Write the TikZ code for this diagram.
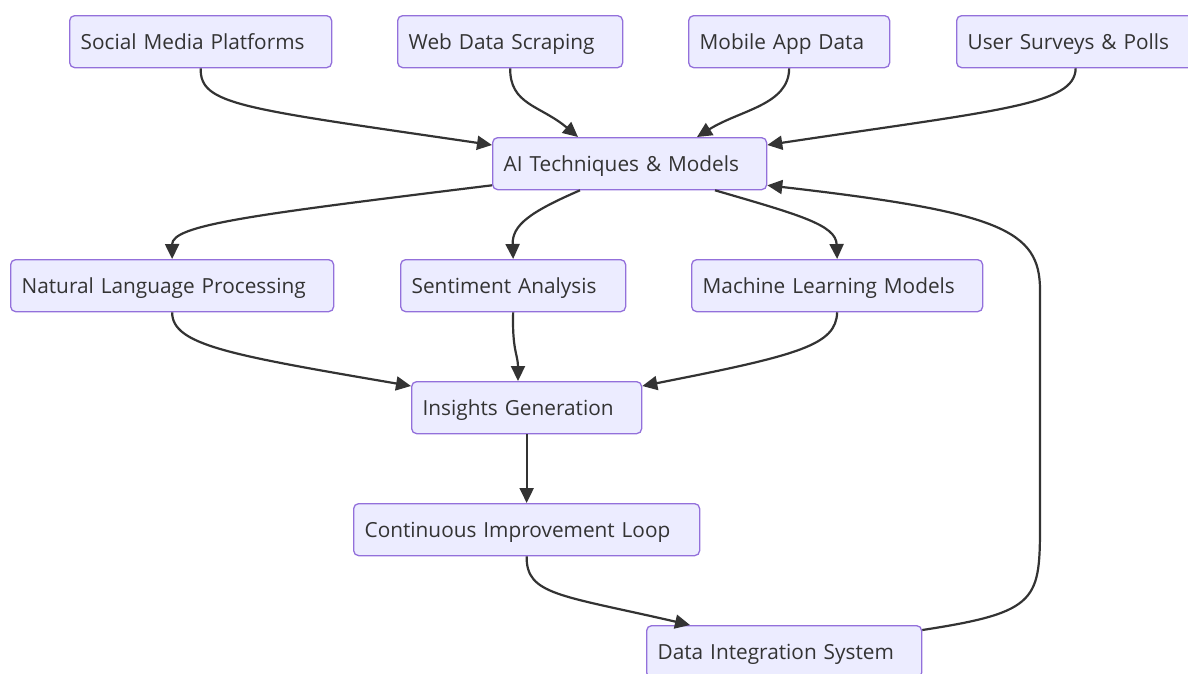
\documentclass[tikz,border=0pt]{standalone}
\usepackage{fontspec}
\setmainfont{Open Sans}
\usetikzlibrary{arrows.meta,calc}
\definecolor{boxfill}{HTML}{ECECFF}
\definecolor{boxline}{HTML}{9370DB}
\definecolor{ink}{HTML}{333333}
\begin{document}
\begin{tikzpicture}[x=1pt,y=-1pt,
  box/.style={draw=boxline,fill=boxfill,rounded corners=5pt,line width=1.3pt,
    minimum height=52pt,anchor=north west,inner xsep=11pt,align=left,
    text height=17pt,text depth=2pt,
    text=ink,font=\fontsize{20.8}{25}\selectfont},
  flow/.style={draw=ink,line width=2.2pt,-{Triangle[length=15pt,width=14pt]}}]
\useasboundingbox (0,0) rectangle (1188,673);

% sources
\node[box,text width=240pt] (soc) at (69,15) {Social Media Platforms};
\node[box,text width=203pt] (web) at (397,15) {Web Data Scraping};
\node[box,text width=179pt] (mob) at (688,15) {Mobile App Data};
\node[box,text width=216pt] (usr) at (956,15) {User Surveys \& Polls};

% core
\node[box,text width=252pt] (ai) at (492,137) {AI Techniques \& Models};

% techniques
\node[box,text width=301pt] (nlp) at (10,259) {Natural Language Processing};
\node[box,text width=203pt] (sent) at (400,259) {Sentiment Analysis};
\node[box,text width=269pt] (ml) at (691,259) {Machine Learning Models};

% outputs
\node[box,text width=208pt] (ins) at (411,381) {Insights Generation};
\node[box,text width=324pt] (cont) at (353,503) {Continuous Improvement Loop};
\node[box,text width=253pt] (dis) at (646,625) {Data Integration System};

% sources into the AI node
\draw[flow] (soc.south) .. controls (200,105) and (240,108) .. ($(ai.north west)+(0,8)$);
\draw[flow] (web.south) .. controls (510,105) and (540,105) .. ($(ai.north west)+(86,0)$);
\draw[flow] (mob.south) .. controls (789,105) and (740,110) .. ($(ai.north west)+(205,0)$);
\draw[flow] (usr.south) .. controls (1075,105) and (1000,110) .. ($(ai.north east)+(0,8)$);

% AI node out to techniques
\draw[flow] ($(ai.south west)+(0,-5)$) .. controls (250,215) and (172,225) .. (nlp.north);
\draw[flow] ($(ai.south west)+(88,0)$) .. controls (530,212) and (512,225) .. (sent.north);
\draw[flow] ($(ai.south west)+(223,0)$) .. controls (800,215) and (836,225) .. (ml.north);

% techniques into insights
\draw[flow] (nlp.south) .. controls (172,345) and (230,355) .. ($(ins.north west)+(0,5)$);
\draw[flow] (sent.south) .. controls (512,350) and (518,355) .. ($(ins.north west)+(107,0)$);
\draw[flow] (ml.south) .. controls (836,345) and (800,355) .. ($(ins.north east)+(0,5)$);

% pipeline and feedback loop
\draw[flow] (ins.south) -- (cont.north);
\draw[flow] (cont.south) .. controls (526,595) and (560,595) .. ($(dis.north west)+(44,0)$);
\draw[flow] ($(dis.north east)+(0,5)$) .. controls (1040,612) and (1040,600) .. (1040,520)
  -- (1040,290) .. controls (1040,230) and (1000,212) .. ($(ai.south east)+(0,-5)$);
\end{tikzpicture}
\end{document}
